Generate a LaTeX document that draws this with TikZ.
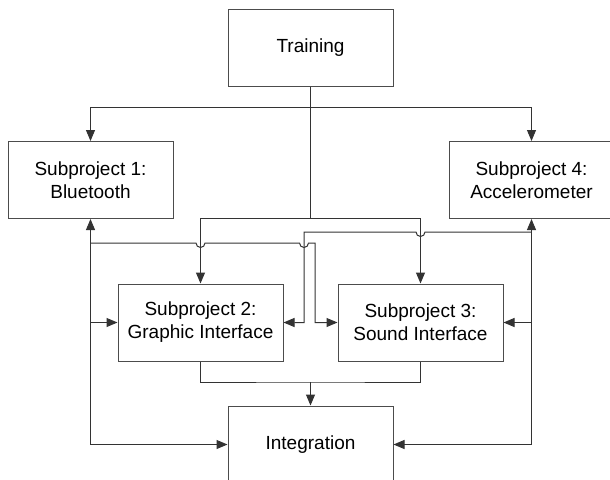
\documentclass[tikz,border=0pt]{standalone}
\usepackage{fontspec}
\setmainfont{Liberation Sans}
\usetikzlibrary{arrows.meta}
\begin{document}
\begin{tikzpicture}[x=1pt,y=-1pt,
  box/.style={draw=black!70,line width=1pt,minimum width=165pt,minimum height=77pt,inner sep=0pt,align=center,font=\fontsize{19}{23}\selectfont},
  wire/.style={draw=black!80,line width=1pt},
  arr/.style={wire,-{Triangle[length=11pt,width=9pt]}},
  barr/.style={wire,{Triangle[length=11pt,width=9pt]}-{Triangle[length=11pt,width=9pt]}}]
\useasboundingbox (0,0) rectangle (610,479);
\clip (0,0) rectangle (610,479);
\node[box] (tr) at (310.5,47.5) {Training};
\node[box] (b1) at (90.5,180) {Subproject 1:\\Bluetooth};
\node[box] (b4) at (531.5,180) {Subproject 4:\\Accelerometer};
\node[box] (b2) at (200.5,322.5) {Subproject 2:\\Graphic Interface};
\node[box] (b3) at (420.5,322.5) {Subproject 3:\\Sound Interface};
\node[box] (in) at (310.5,444.5) {Integration};
% junction coordinates
\coordinate (tA) at (310.5,107);
\coordinate (tB) at (310.5,218);
\coordinate (bm) at (310.5,382);
\coordinate (L1) at (90.5,243);
\coordinate (L2) at (90.5,322.5);
\coordinate (R1) at (531.5,232);
\coordinate (R2) at (531.5,322.5);
% training distribution
\draw[wire] (tr.south) -- (tB);
\draw[arr] (tA) -| (b1.north);
\draw[arr] (tA) -| (b4.north);
\draw[arr] (tB) -| (b2.north);
\draw[arr] (tB) -| (b3.north);
% left bus
\draw[barr] (b1.south) |- (in.west);
\draw[arr] (L2) -- (b2.west);
\draw[arr] (L1) -- (196,243) arc (180:0:4.5) -- (299.5,243) arc (180:0:4.5) -- (315,243) |- (b3.west);
% right bus
\draw[barr] (b4.south) |- (in.east);
\draw[arr] (R2) -- (b3.east);
\draw[arr] (R1) -- (425,232) arc (0:180:4.5) -- (304,232) |- (b2.east);
% merge to integration
\draw[wire] (b2.south) |- (bm) -| (b3.south);
\draw[arr] (bm) -- (in.north);
\end{tikzpicture}
\end{document}
